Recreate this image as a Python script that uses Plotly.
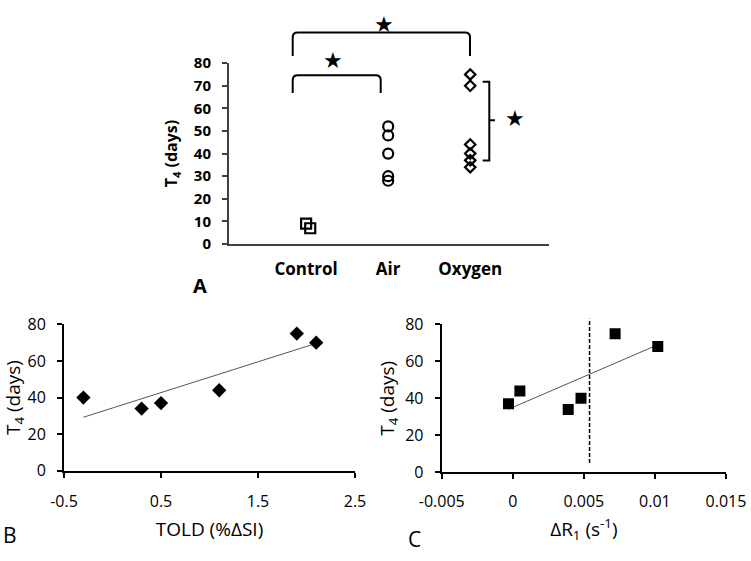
import numpy as np
import plotly.graph_objects as go

# ---------------- data ----------------
# Panel A: T4 (days) per group
categories = ["Control", "Air", "Oxygen"]
control_x = [1.0, 1.05]
control_t4 = [9, 7]
air_x = [2, 2, 2, 2, 2]
air_t4 = [52, 48, 40, 30, 28]
oxygen_x = [3, 3, 3, 3, 3, 3]
oxygen_t4 = [75, 70, 44, 40, 37, 34]

# Panel B: TOLD (%dSI) vs T4
told = [-0.3, 0.3, 0.5, 1.1, 1.9, 2.1]
told_t4 = [40, 34, 37, 44, 75, 70]
told_ticks = [-0.5, 0.5, 1.5, 2.5]
told_ticktext = ["-0.5", "0.5", "1.5", "2.5"]

# Panel C: dR1 (s^-1) vs T4
dr1 = [-0.0003, 0.0005, 0.0039, 0.0048, 0.0072, 0.0102]
dr1_t4 = [37, 44, 34, 40, 75, 68]
dr1_ticks = [-0.005, 0, 0.005, 0.01, 0.015]
dr1_ticktext = ["-0.005", "0", "0.005", "0.01", "0.015"]
dr1_threshold = 0.0054

t4_ticks_a = [0, 10, 20, 30, 40, 50, 60, 70, 80]
t4_ticks_bc = [0, 20, 40, 60, 80]

# ---------------- layout helpers ----------------
W, H = 751, 561
FONT = "'Open Sans', Lato, Carlito, Calibri, sans-serif"


def px(x):
    return x / W


def py(y):
    return 1 - y / H


fig = go.Figure()

# Panel A
mk = dict(color="black", line=dict(color="black", width=2.2))
fig.add_trace(go.Scatter(x=control_x, y=control_t4, mode="markers", xaxis="x", yaxis="y",
                         marker=dict(symbol="square-open", size=10, **mk), showlegend=False))
fig.add_trace(go.Scatter(x=air_x, y=air_t4, mode="markers", xaxis="x", yaxis="y",
                         marker=dict(symbol="circle-open", size=10, **mk), showlegend=False))
fig.add_trace(go.Scatter(x=oxygen_x, y=oxygen_t4, mode="markers", xaxis="x", yaxis="y",
                         marker=dict(symbol="diamond-open", size=8, **mk), showlegend=False))

# Panel B
cb = np.polyfit(told, told_t4, 1)
xb = np.array([min(told), max(told)])
fig.add_trace(go.Scatter(x=xb, y=np.polyval(cb, xb), mode="lines", xaxis="x2", yaxis="y2",
                         line=dict(color="#555555", width=1), showlegend=False))
fig.add_trace(go.Scatter(x=told, y=told_t4, mode="markers", xaxis="x2", yaxis="y2",
                         marker=dict(symbol="diamond", size=11, color="black"), showlegend=False))

# Panel C
cc = np.polyfit(dr1, dr1_t4, 1)
xc = np.array([min(dr1), max(dr1)])
fig.add_trace(go.Scatter(x=xc, y=np.polyval(cc, xc), mode="lines", xaxis="x3", yaxis="y3",
                         line=dict(color="#555555", width=1), showlegend=False))
fig.add_trace(go.Scatter(x=dr1, y=dr1_t4, mode="markers", xaxis="x3", yaxis="y3",
                         marker=dict(symbol="square", size=11, color="black"), showlegend=False))

tickfont_bc = dict(family=FONT, size=16, color="black")
titlefont_bc = dict(family=FONT, size=19, color="black")
axA = "#404040"

fig.update_layout(
    width=W, height=H,
    margin=dict(l=0, r=0, t=0, b=0),
    paper_bgcolor="white", plot_bgcolor="white",
    font=dict(family=FONT, color="black"),
    xaxis=dict(domain=[px(229), px(549)], range=[0.06, 3.96], anchor="y",
               tickvals=[1, 2, 3], ticktext=categories, ticks="", showgrid=False, zeroline=False,
               showline=True, linecolor=axA, linewidth=2, ticklabelstandoff=9,
               tickfont=dict(family=FONT, size=17, color="black", weight="bold")),
    yaxis=dict(domain=[py(241.7), py(54)], range=[0, 80], anchor="x",
               tickvals=t4_ticks_a, ticks="outside", ticklen=5, tickcolor=axA, tickwidth=1.5,
               showgrid=False, zeroline=False, showline=True, linecolor=axA, linewidth=2,
               ticklabelstandoff=8,
               tickfont=dict(family=FONT, size=15, color="black", weight="bold"),
               title=dict(text="T<sub>4</sub> (days)", standoff=12,
                          font=dict(family=FONT, size=16, color="black", weight="bold"))),
    xaxis2=dict(domain=[px(64), px(355)], range=[-0.5, 2.5], anchor="y2",
                tickvals=told_ticks, ticktext=told_ticktext, ticks="outside", ticklen=5,
                tickwidth=2, tickcolor="black", showgrid=False, zeroline=False,
                showline=True, linecolor="black", linewidth=2, ticklabelstandoff=10,
                tickfont=tickfont_bc, automargin=False,
                title=dict(text="TOLD (%ΔSI)", standoff=12, font=titlefont_bc)),
    yaxis2=dict(domain=[py(476.7), py(325)], range=[0, 80], anchor="x2",
                tickvals=t4_ticks_bc, ticks="outside", ticklen=5, tickwidth=2, tickcolor="black",
                showgrid=False, zeroline=False, showline=True, linecolor="black", linewidth=2,
                ticklabelstandoff=8, tickfont=tickfont_bc, automargin=False,
                title=dict(text="T<sub>4</sub> (days)", standoff=6, font=titlefont_bc)),
    xaxis3=dict(domain=[px(441.7), px(726)], range=[-0.005, 0.015], anchor="y3",
                tickvals=dr1_ticks, ticktext=dr1_ticktext, ticks="outside", ticklen=5,
                tickwidth=2, tickcolor="black", showgrid=False, zeroline=False,
                showline=True, linecolor="black", linewidth=2, ticklabelstandoff=9,
                tickfont=tickfont_bc, automargin=False,
                title=dict(text="ΔR<sub>1</sub> (s<sup>-1</sup>)", standoff=11, font=titlefont_bc)),
    yaxis3=dict(domain=[py(478.3), py(325)], range=[0, 80], anchor="x3",
                tickvals=t4_ticks_bc, ticks="outside", ticklen=5, tickwidth=2, tickcolor="black",
                showgrid=False, zeroline=False, showline=True, linecolor="black", linewidth=2,
                ticklabelstandoff=8, tickfont=tickfont_bc, automargin=False,
                title=dict(text="T<sub>4</sub> (days)", standoff=6, font=titlefont_bc)),
)

# dashed threshold line in panel C
fig.add_shape(type="line", xref="x3", yref="y3 domain", x0=dr1_threshold, x1=dr1_threshold,
              y0=5 / 80, y1=83 / 80, line=dict(color="black", width=1.5, dash="4px,2px"))


# significance brackets (paper coordinates from pixel positions)
def top_bracket(x0, x1, yt, yb, r=5):
    return (f"M {px(x0)},{py(yb)} L {px(x0)},{py(yt + r)} "
            f"Q {px(x0)},{py(yt)} {px(x0 + r)},{py(yt)} "
            f"L {px(x1 - r)},{py(yt)} Q {px(x1)},{py(yt)} {px(x1)},{py(yt + r)} "
            f"L {px(x1)},{py(yb)}")


bl = dict(color="black", width=2)
fig.add_shape(type="path", xref="paper", yref="paper", path=top_bracket(292.7, 470, 22.3, 46.7), line=bl)
fig.add_shape(type="path", xref="paper", yref="paper", path=top_bracket(292.7, 380.7, 66.7, 85), line=bl)
right_path = (f"M {px(482.7)},{py(73.3)} L {px(489.3)},{py(73.3)} L {px(489.3)},{py(155)} "
              f"L {px(482.7)},{py(155)} M {px(489.3)},{py(113.3)} L {px(495)},{py(113.3)}")
fig.add_shape(type="path", xref="paper", yref="paper", path=right_path, line=bl)

star = dict(family="DejaVu Sans", size=22, color="black")
for sx, sy in [(384.3, 13.5), (333.3, 51.7), (515.3, 111.7)]:
    fig.add_annotation(x=px(sx), y=py(sy), xref="paper", yref="paper", text="★",
                       showarrow=False, font=star, xanchor="center", yanchor="middle")

# panel letters
fig.add_annotation(x=px(200), y=py(285), xref="paper", yref="paper", text="<b>A</b>",
                   showarrow=False, font=dict(family=FONT, size=20, color="black"),
                   xanchor="center", yanchor="middle")
fig.add_annotation(x=px(10), y=py(543), xref="paper", yref="paper", text="B",
                   showarrow=False, font=dict(family=FONT, size=21, color="black"),
                   xanchor="center", yanchor="middle")
fig.add_annotation(x=px(414), y=py(548), xref="paper", yref="paper", text="C",
                   showarrow=False, font=dict(family=FONT, size=21, color="black"),
                   xanchor="center", yanchor="middle")

fig.write_html("out.html", config={"displayModeBar": False},
               post_script="document.body.style.margin='0';")
